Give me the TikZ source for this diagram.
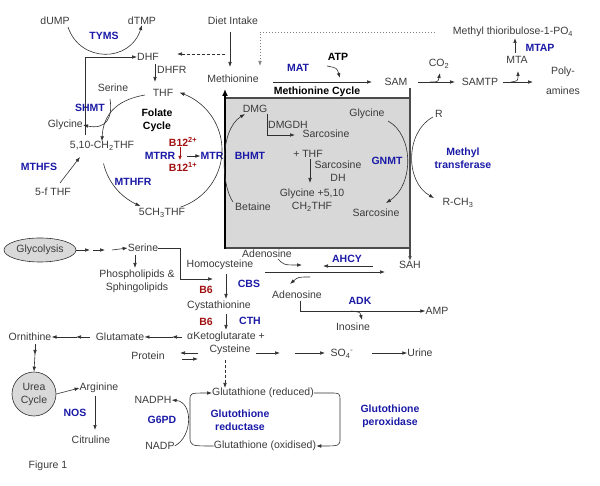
\documentclass[tikz,border=0pt]{standalone}
\usepackage{fontspec}
\setmainfont{Liberation Sans}
\usetikzlibrary{arrows.meta,shapes.geometric}
\definecolor{txtc}{HTML}{3A3A3A}
\definecolor{enzc}{HTML}{1A1AA6}
\definecolor{vitc}{HTML}{A01010}
\definecolor{boxc}{HTML}{D8D8D8}
\definecolor{linec}{HTML}{303030}
\begin{document}
\begin{tikzpicture}[x=1pt,y=-1pt,
  every node/.style={inner sep=0pt,text=txtc,font=\fontsize{10.5}{13}\selectfont},
  enz/.style={text=enzc,font=\fontsize{10.5}{13}\selectfont\bfseries},
  vit/.style={text=vitc,font=\fontsize{10.5}{13}\selectfont\bfseries},
  hdr/.style={text=black,font=\fontsize{10.5}{13}\selectfont\bfseries},
  arr/.style={draw=linec,line width=0.6pt,-{Latex[length=5pt,width=3.6pt]}},
  plain/.style={draw=linec,line width=0.6pt},
  dsh/.style={arr,dash pattern=on 3pt off 2pt},
  dotl/.style={arr,draw=gray,dash pattern=on 1.5pt off 1.5pt},
]
\useasboundingbox (0,0) rectangle (600,486);
% ---------- methionine cycle box
\fill[boxc] (225,98) rectangle (410,248);
\draw[draw=gray!60!black,line width=1.2pt] (225,98) -- (410,98) (225,248) -- (410,248);

% ---------- nodes: folate
\node (dump) at (55,21) {dUMP};
\node (dtmp) at (142,21) {dTMP};
\node[enz] (tyms) at (104,36) {TYMS};
\node (dhf) at (148,57) {DHF};
\node[anchor=west] (dhfr) at (157,70) {DHFR};
\node (thf) at (163,93) {THF};
\node (serineF) at (113,88) {Serine};
\node[enz] (shmt) at (90,108) {SHMT};
\node[hdr,align=center] (folate) at (157,120) {Folate\\Cycle};
\node[anchor=east] (glycineF) at (83,125) {Glycine};
\node (ch2thf) at (102,146) {5,10-CH\textsubscript{2}THF};
\node[vit] (b12a) at (183,142) {B12\textsuperscript{2+}};
\node[enz] (mtrr) at (160,156) {MTRR};
\node[vit] (b12b) at (183,167) {B12\textsuperscript{1+}};
\node[enz] (mtr) at (212,156) {MTR};
\node[enz] (mthfs) at (39,167) {MTHFS};
\node (fthf) at (53,192) {5-f THF};
\node[enz] (mthfr) at (133,182) {MTHFR};
\node (ch3thf) at (162,213) {5CH\textsubscript{3}THF};

% ---------- nodes: methionine
\node (diet) at (233,21) {Diet Intake};
\node (methionine) at (233,79) {Methionine};
\node[enz] (mat) at (298,68) {MAT};
\node[hdr] (atp) at (338,57) {ATP};
\node[hdr] (metcycle) at (317,92) {Methionine Cycle};
\node (sam) at (396,82) {SAM};
\node (co2) at (439,64) {CO\textsubscript{2}};
\node (samtp) at (480,82) {SAMTP};
\node (mta) at (517,60) {MTA};
\node[enz] (mtap) at (540,48) {MTAP};
\node (mtrpo) at (513,32) {Methyl thioribulose-1-PO\textsubscript{4}};
\node[align=center] (poly) at (563,81) {Poly-\\[7pt]amines};
\node (dmg) at (255,109) {DMG};
\node (dmgdh) at (288,125) {DMGDH};
\node (sarc1) at (326,134) {Sarcosine};
\node (thfplus) at (308,154) {+ THF};
\node[align=center] (sarcdh) at (338,171) {Sarcosine\\DH};
\node[align=center] (gly510) at (312,200) {Glycine +5,10\\CH\textsubscript{2}THF};
\node[enz] (bhmt) at (250,156) {BHMT};
\node (betaine) at (253,207) {Betaine};
\node (glycineM) at (367,114) {Glycine};
\node[enz] (gnmt) at (387,161) {GNMT};
\node (sarc2) at (376,213) {Sarcosine};
\node (rr) at (439,114) {R};
\node[enz,align=center] (methyltr) at (463,158) {Methyl\\transferase};
\node (rch3) at (458,203) {R-CH\textsubscript{3}};
\node (sah) at (410,265) {SAH};

% ---------- nodes: transsulfuration
\node[ellipse,draw=linec,fill=gray!30,line width=0.6pt,minimum width=72pt,minimum height=24pt] (glyco) at (40,250) {Glycolysis};
\node (serine2) at (143,248) {Serine};
\node[align=center] (phospho) at (137,281) {Phospholipids \&\\Sphingolipids};
\node (homocys) at (220,265) {Homocysteine};
\node (aden1) at (267,254) {Adenosine};
\node[enz] (ahcy) at (347,259) {AHCY};
\node[enz] (cbs) at (249,284) {CBS};
\node[vit] (b6a) at (206,290) {B6};
\node (aden2) at (297,295) {Adenosine};
\node[enz] (adk) at (360,301) {ADK};
\node (amp) at (437,311) {AMP};
\node (inosine) at (353,327) {Inosine};
\node (cysta) at (219,306) {Cystathionine};
\node[vit] (b6b) at (206,322) {B6};
\node[enz] (cth) at (250,321) {CTH};
\node (akg) at (226,337) {αKetoglutarate +};
\node (cysteine) at (230,350) {Cysteine};
\node (glutamate) at (120,337) {Glutamate};
\node (ornithine) at (30,337) {Ornithine};
\node (protein) at (148,356) {Protein};
\node (so4) at (342,354) {SO\textsubscript{4}\textsuperscript{-}};
\node (urine) at (420,353) {Urine};
\node[circle,draw=linec,fill=gray!30,line width=0.6pt,minimum size=44pt,align=center] (urea) at (34,394) {Urea\\Cycle};
\node (arginine) at (99,388) {Arginine};
\node[enz] (nos) at (75,413) {NOS};
\node (citruline) at (91,440) {Citruline};
\node (nadph) at (153,400) {NADPH};
\node[enz] (g6pd) at (162,420) {G6PD};
\node (nadp) at (160,446) {NADP};
\node (gshred) at (263,393) {Glutathione (reduced)};
\node (gshox) at (265,446) {Glutathione (oxidised)};
\node[enz,align=center] (gred) at (240,420) {Glutothione\\reductase};
\node[enz,align=center] (gperox) at (390,416) {Glutothione\\peroxidase};
\node (fig) at (48,466) {Figure 1};

% ---------- connectors: folate
\draw[arr] (68,27) .. controls (80,63) and (130,63) .. (dtmp.south);
\draw[arr] (85,135) -- (85,57) -- (dhf.west);
\draw[dsh] (225,54) -- (177,54);
\draw[arr] (155,64) -- (155,82);
\draw[arr] (110,99) .. controls (113,118) and (106,130) .. (glycineF.east);
\draw[arr] (145,95) .. controls (115,100) and (103,116) .. (ch2thf.north);
\draw[arr] plot[domain=72:-73,samples=50] ({162+60*cos(\x)},{150+60*sin(\x)});
\draw[arr] plot[domain=167:111,samples=30] ({162+60*cos(\x)},{150+60*sin(\x)});
\draw[arr,draw=vitc,-{Latex[length=4pt,width=3.5pt]}] (180,147) -- (180,160);
\draw[arr] (187,156) -- (mtr.west);
\draw[arr] (60,183) -- (80,157);

% ---------- connectors: methionine
\draw[arr] (230,32) -- (230,67);
\draw[dotl] (435,32) -- (260,32) -- (260,66);
\draw[arr] (327,66) .. controls (337,68) .. (340,78);
\draw[arr] (273,82) -- (372,82);
\draw[line width=2.6pt,-{Latex[length=7pt,width=6pt]}] (225,249) -- (225,89);
\draw[arr,draw=gray!60!black,line width=1.2pt] (410,88) -- (sah.north);
\draw[arr] (418,82) -- (455,82);
\draw[arr] (430,82) .. controls (438,82) .. (440,73);
\draw[arr] (503,82) -- (533,82);
\draw[arr] (511,82) .. controls (518,81) .. (518,71);
\draw[arr] (515,53) -- (515,38);
\draw[arr] (267,114) -- (267,135) -- (295,135);
\draw[arr] (310,159) -- (310,183);
\draw[arr] (233,202) .. controls (221,185) and (219,130) .. (245,114);
\draw[arr] (388,121) .. controls (414,135) and (414,185) .. (386,203);
\draw[arr] (433,117) .. controls (405,132) and (405,182) .. (434,198);

% ---------- connectors: transsulfuration
\draw[arr] (glyco.east) -- (90,250);
\draw[arr] (93,250) -- (105,250);
\draw[arr] (112,250) -- (serine2.west);
\draw[arr] (135,255) -- (135,268);
\draw[arr] (serine2.east) -- (180,248) -- (180,279) -- (213,279);
\draw[arr] (278,259) .. controls (284,265) .. (302,265);
\draw[arr] (373,266) -- (323,266);
\draw[arr] (265,272) -- (385,272);
\draw[arr] (310,277) .. controls (298,277) .. (290,284);
\draw[arr] (226,274) -- (226,299);
\draw[arr] (226,314) -- (226,330);
\draw[plain] (300,301) -- (300,311);
\draw[arr] (300,311) -- (amp.west);
\draw[arr] (351,311) .. controls (360,312) .. (362,320);
\draw[arr] (182,337) -- (172,337);
\draw[arr] (173,337) -- (glutamate.east);
\draw[arr] (90,337) -- (76,337);
\draw[arr] (77,337) -- (ornithine.east);
\draw[arr] (35,344) -- (35,355);
\draw[arr] (35,354) -- (urea.north);
\draw[arr] (198,353) -- (180,353);
\draw[arr] (182,359) -- (198,359);
\draw[arr] (256,353) -- (280,353);
\draw[arr] (295,353) -- (325,353);
\draw[arr] (372,353) -- (urine.west);
\draw[dsh] (225,360) -- (225,388);
\draw[arr] (urea.east) -- (arginine.west);
\draw[arr] (95,396) -- (95,430);
\draw[arr] (nadp.east) .. controls (193,436) and (193,402) .. (nadph.east);
\draw[arr] (gshox.west) .. controls (190,446) .. (190,436) -- (190,400) .. controls (190,393) .. (gshred.west);
\draw[arr] (gshred.east) -- (330,393) .. controls (340,393) .. (340,401) -- (340,438) .. controls (340,446) .. (gshox.east);
\end{tikzpicture}
\end{document}
